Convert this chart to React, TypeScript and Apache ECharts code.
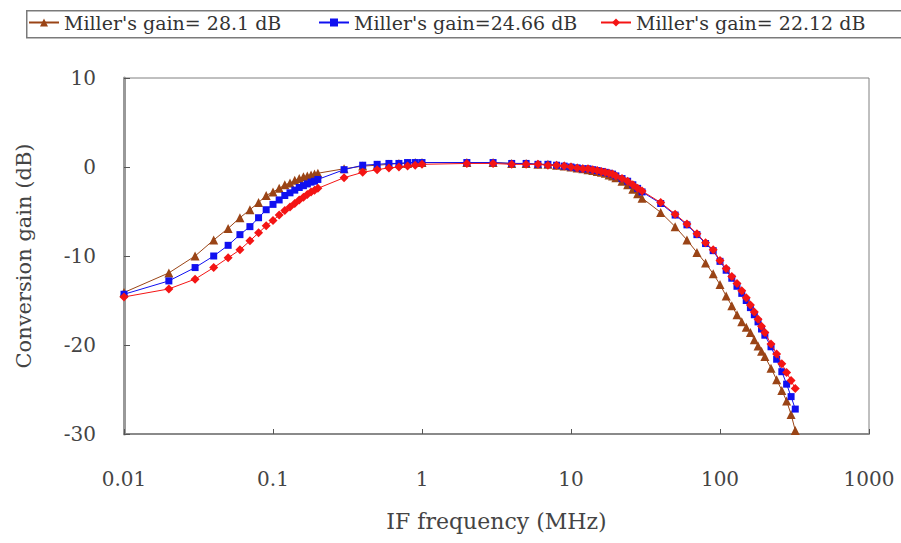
import React, { useEffect, useRef } from "react";
import * as echarts from "echarts";

const freqs = [
  0.01, 0.02, 0.03, 0.04, 0.05, 0.06, 0.07, 0.08, 0.09,
  0.1, 0.11, 0.12, 0.13, 0.14, 0.15, 0.16, 0.17, 0.18, 0.19, 0.2,
  0.3, 0.4, 0.5, 0.6, 0.7, 0.8, 0.9, 1,
  2, 3, 4, 5, 6, 7, 8, 9,
  10, 11, 12, 13, 14, 15, 16, 17, 18, 19, 20, 22, 24, 26, 28, 30,
  40, 50, 60, 70, 80, 90,
  100, 110, 120, 130, 140, 150, 160, 170, 180, 190, 200,
  220, 240, 260, 280, 300, 320,
];

const gain281 = [
  -14.1, -11.9, -10.0, -8.2, -6.9, -5.7, -4.8, -4.0, -3.2,
  -2.8, -2.4, -2.0, -1.8, -1.5, -1.3, -1.1, -1.0, -0.9, -0.8, -0.7,
  -0.2, 0.1, 0.2, 0.3, 0.4, 0.4, 0.5, 0.5,
  0.5, 0.5, 0.4, 0.4, 0.3, 0.3, 0.2, 0.1,
  0.0, -0.1, -0.2, -0.3, -0.4, -0.5, -0.6, -0.7, -0.9, -1.0, -1.2, -1.6, -2.0, -2.5, -3.0, -3.5,
  -5.1, -6.7, -8.2, -9.6, -10.8, -12.0,
  -13.2, -14.5, -15.6, -16.6, -17.4, -18.0, -18.6, -19.4, -20.1, -20.7, -21.3,
  -22.6, -23.9, -25.1, -26.3, -27.8, -29.6,
];

const gain2466 = [
  -14.3, -12.8, -11.3, -10.0, -8.8, -7.6, -6.7, -5.7, -4.8,
  -4.2, -3.7, -3.2, -2.9, -2.6, -2.3, -2.1, -1.9, -1.7, -1.6, -1.4,
  -0.3, 0.2, 0.3, 0.4, 0.4, 0.5, 0.5, 0.5,
  0.5, 0.5, 0.4, 0.4, 0.3, 0.3, 0.2, 0.1,
  0.0, -0.1, -0.2, -0.2, -0.3, -0.4, -0.5, -0.6, -0.7, -0.8, -1.0, -1.3, -1.6, -2.0, -2.4, -2.8,
  -4.1, -5.4, -6.5, -7.6, -8.6, -9.4,
  -10.6, -11.6, -12.5, -13.4, -14.2, -15.0, -15.8, -16.6, -17.4, -18.2, -18.9,
  -20.2, -21.6, -23.0, -24.4, -25.8, -27.2,
];

const gain2212 = [
  -14.6, -13.7, -12.6, -11.3, -10.2, -9.3, -8.3, -7.4, -6.6,
  -6.0, -5.4, -4.9, -4.5, -4.1, -3.7, -3.4, -3.1, -2.8, -2.6, -2.4,
  -1.2, -0.6, -0.3, -0.1, 0.0, 0.1, 0.2, 0.3,
  0.4, 0.4, 0.3, 0.3, 0.3, 0.2, 0.2, 0.1,
  0.0, -0.1, -0.2, -0.2, -0.3, -0.4, -0.5, -0.6, -0.7, -0.8, -1.0, -1.3, -1.6, -2.0, -2.4, -2.7,
  -4.0, -5.3, -6.4, -7.5, -8.5, -9.3,
  -10.5, -11.4, -12.3, -13.1, -13.9, -14.7, -15.5, -16.3, -17.1, -17.9, -18.6,
  -19.9, -21.0, -22.1, -23.1, -24.0, -24.9,
];

const seriesNames = [
  "Miller's gain= 28.1 dB",
  "Miller's gain=24.66 dB",
  "Miller's gain= 22.12 dB",
];
const seriesColors = ["#9a4416", "#1010f0", "#f41414"];
const seriesSymbols = ["triangle", "rect", "diamond"];
const seriesSizes = [9, 7, 9];
const seriesGains = [gain281, gain2466, gain2212];

const xTickLabels = ["0.01", "0.1", "1", "10", "100", "1000"];
const yTicks = [-30, -20, -10, 0, 10];

const FONT = "'DejaVu Serif', 'Liberation Serif', serif";

export default function App() {
  const ref = useRef<HTMLDivElement>(null);

  useEffect(() => {
    if (!ref.current) return;
    const chart = echarts.init(ref.current, undefined, { renderer: "svg" });

    const legendLefts = [28, 318, 600];

    const option: any = {
      animation: false,
      backgroundColor: "#ffffff",
      textStyle: { fontFamily: FONT },
      graphic: [
        {
          type: "rect",
          left: 26,
          top: 10,
          shape: { width: 900, height: 27 },
          style: { fill: "#ffffff", stroke: "#7a7a7a", lineWidth: 1.5 },
          z: 0,
        },
      ],
      legend: seriesNames.map((n, i) => ({
        data: [n],
        left: legendLefts[i],
        top: 13,
        padding: 0,
        itemWidth: 30,
        itemHeight: 10,
        itemGap: 4,
        textStyle: { fontFamily: FONT, fontSize: 19, color: "#333" },
      })),
      grid: {
        left: 124,
        right: 32,
        top: 78,
        bottom: 109,
        show: true,
        borderColor: "#808080",
        borderWidth: 1,
        backgroundColor: "transparent",
      },
      xAxis: {
        type: "log",
        logBase: 10,
        min: 0.01,
        max: 1000,
        name: "IF frequency (MHz)",
        nameLocation: "middle",
        nameGap: 76,
        nameTextStyle: { fontFamily: FONT, fontSize: 22, color: "#444" },
        axisLine: { show: true, onZero: false, lineStyle: { color: "#8a8a8a", width: 2 } },
        axisTick: { show: true, inside: true, length: 5, lineStyle: { color: "#555" } },
        minorTick: { show: false },
        splitLine: { show: false },
        axisLabel: {
          margin: 35,
          fontFamily: FONT,
          fontSize: 20,
          color: "#444",
          formatter: (v: number) => {
            const lab = xTickLabels.find(
              (l) => Math.abs(Math.log10(parseFloat(l)) - Math.log10(v)) < 1e-6
            );
            return lab ?? "";
          },
        },
      },
      yAxis: {
        type: "value",
        min: yTicks[0],
        max: yTicks[yTicks.length - 1],
        interval: 10,
        name: "Conversion gain (dB)",
        nameLocation: "middle",
        nameGap: 90,
        nameTextStyle: { fontFamily: FONT, fontSize: 21, color: "#444" },
        axisLine: { show: true, onZero: false, lineStyle: { color: "#999", width: 3 } },
        axisTick: { show: true, inside: true, length: 6, lineStyle: { color: "#555" } },
        splitLine: { show: false },
        axisLabel: {
          margin: 28,
          fontFamily: FONT,
          fontSize: 20,
          color: "#444",
        },
      },
      series: seriesNames.map((n, i) => ({
        name: n,
        type: "line",
        data: freqs.map((f, j) => [f, seriesGains[i][j]]),
        symbol: seriesSymbols[i],
        symbolSize: seriesSizes[i],
        showSymbol: true,
        lineStyle: { color: seriesColors[i], width: 1 },
        itemStyle: { color: seriesColors[i] },
        z: 2 + i,
      })),
    };

    chart.setOption(option);
    return () => chart.dispose();
  }, []);

  return (
    <div
      ref={ref}
      style={{ position: "absolute", left: 0, top: 0, width: 901, height: 543 }}
    />
  );
}
